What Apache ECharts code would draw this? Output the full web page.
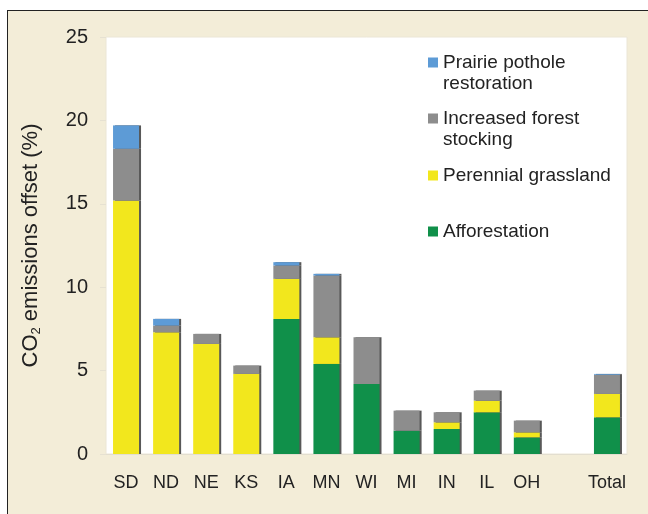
<!DOCTYPE html>
<html>
<head>
<meta charset="utf-8">
<script src="https://cdn.jsdelivr.net/npm/echarts@6/dist/echarts.min.js"></script>
<style>
  html, body { margin: 0; padding: 0; background: #fff; }
  .frame {
    position: absolute; left: 7px; top: 10px; width: 660px; height: 520px;
    background: #f3edd8; border-top: 1.5px solid #222; border-left: 1.5px solid #222;
  }
  #chart { position: absolute; left: 0; top: 0; width: 648px; height: 514px; }
</style>
</head>
<body>
<div class="frame"></div>
<div id="chart"></div>
<script>
// states plus an empty slot before the total bar
const categories = ['SD', 'ND', 'NE', 'KS', 'IA', 'MN', 'WI', 'MI', 'IN', 'IL', 'OH', '', 'Total']
const yTicks = [0, 5, 10, 15, 20, 25]

// segment heights (% of CO2 emissions offset), bottom to top
const afforestation = [0, 0, 0, 0, 8.1, 5.4, 4.2, 1.4, 1.5, 2.5, 1.0, '-', 2.2]
const grassland = [15.2, 7.3, 6.6, 4.8, 2.4, 1.6, 0, 0, 0.4, 0.7, 0.3, '-', 1.4]
const forestStocking = [3.1, 0.4, 0.6, 0.5, 0.8, 3.7, 2.8, 1.2, 0.6, 0.6, 0.7, '-', 1.15]
const pothole = [1.4, 0.4, 0, 0, 0.2, 0.1, 0, 0, 0, 0, 0, '-', 0.05]

const names = {
  pothole: 'Prairie pothole\nrestoration',
  forest: 'Increased forest\nstocking',
  grass: 'Perennial grassland',
  aff: 'Afforestation'
}
const colors = {
  pothole: '#5d9bd6',
  forest: '#8d8d8d',
  grass: '#f2e71d',
  aff: '#10904a'
}

const font = 'Liberation Sans, Arial, sans-serif'

const makeBar = (name, data, color) => ({
  name: name,
  type: 'bar',
  stack: 'total',
  barWidth: 26,
  data: data,
  itemStyle: {
    color: color,
    shadowColor: 'rgba(70,70,70,0.9)',
    shadowOffsetX: 2,
    shadowOffsetY: 0,
    shadowBlur: 0
  }
})

// two-line names get an empty first line so the icon sits beside line one
const makeLegend = (name, top, twoLines) => ({
  data: [name],
  left: 428,
  top: top,
  padding: 0,
  itemWidth: 10,
  itemHeight: 10,
  selectedMode: false,
  icon: 'rect',
  formatter: n => (twoLines ? ' \n' + n : n),
  textStyle: {
    fontFamily: font,
    fontSize: 19,
    lineHeight: 21,
    color: '#222'
  }
})

const chart = echarts.init(document.getElementById('chart'))

chart.setOption({
  animation: false,
  backgroundColor: 'transparent',
  grid: {
    left: 106,
    top: 37,
    width: 521,
    height: 417,
    show: true,
    backgroundColor: '#fff',
    borderColor: '#ebe6d6',
    borderWidth: 1
  },
  legend: [
    makeLegend(names.pothole, 31, true),
    makeLegend(names.forest, 87, true),
    makeLegend(names.grass, 165, false),
    makeLegend(names.aff, 221, false)
  ],
  xAxis: {
    type: 'category',
    data: categories,
    axisTick: { show: false },
    axisLine: { lineStyle: { color: '#e3ded0', width: 1 } },
    axisLabel: {
      interval: 0,
      margin: 20,
      fontFamily: font,
      fontSize: 18,
      color: '#222'
    }
  },
  yAxis: {
    type: 'value',
    min: yTicks[0],
    max: yTicks[yTicks.length - 1],
    interval: 5,
    splitLine: { show: false },
    axisLine: { show: false },
    axisTick: { show: true, length: 6, lineStyle: { color: '#e6e1d2' } },
    axisLabel: {
      margin: 18,
      fontFamily: font,
      fontSize: 20,
      color: '#222'
    },
    name: '{a|CO}{sub|2}{a| emissions offset (%)}',
    nameLocation: 'middle',
    nameRotate: 90,
    nameGap: 63,
    nameTextStyle: {
      rich: {
        a: { fontFamily: font, fontSize: 22, color: '#222', lineHeight: 24 },
        sub: { fontFamily: font, fontSize: 13, color: '#222', lineHeight: 24, verticalAlign: 'bottom', padding: [10, 0, 0, 0] }
      }
    }
  },
  series: [
    makeBar(names.aff, afforestation, colors.aff),
    makeBar(names.grass, grassland, colors.grass),
    makeBar(names.forest, forestStocking, colors.forest),
    makeBar(names.pothole, pothole, colors.pothole)
  ]
})
</script>
</body>
</html>
